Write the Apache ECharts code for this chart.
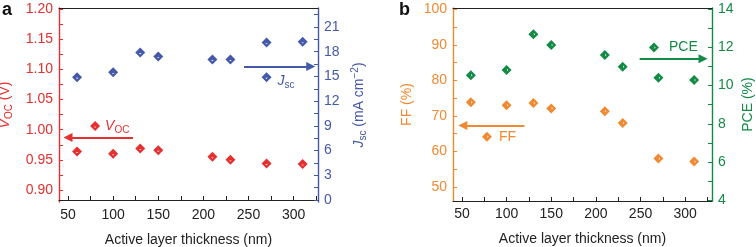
<!DOCTYPE html>
<html>
<head>
    <meta charset="utf-8">
    <script src="https://cdn.jsdelivr.net/npm/echarts@6/dist/echarts.min.js"></script>
</head>
<body style="margin:0;background:#fff;">
    <div id="main" style="width: 756px;height:247px;"></div>
    <script type="text/javascript">
        // thickness of active layer (nm)
        var thickness = [60, 100, 130, 150, 210, 230, 270, 310];
        var voc = [0.964, 0.960, 0.969, 0.966, 0.955, 0.950, 0.944, 0.943];
        var jsc = [14.9, 15.5, 17.9, 17.4, 17.05, 17.05, 19.1, 19.2];
        var ff = [73.8, 73.0, 73.6, 72.1, 71.3, 68.0, 58.0, 57.1];
        var pce = [10.55, 10.82, 12.70, 12.13, 11.60, 10.99, 10.41, 10.29];

        // key markers + arrows (data coords)
        var vocKey = [80, 1.006], jscKey = [270, 14.9];
        var ffKey = [78, 64.1], pceKey = [265, 12.0];
        var vocArrow = [122, 50, 0.987], jscArrow = [245, 319, 16.2];
        var ffArrow = [120, 51, 67.3], pceArrow = [249, 320, 11.41];

        // ticks
        var xTicks = [50, 75, 100, 125, 150, 175, 200, 225, 250, 275, 300, 325];
        var xLabels = [50, 100, 150, 200, 250, 300];
        var vocTicks = [0.9, 0.925, 0.95, 0.975, 1.0, 1.025, 1.05, 1.075, 1.1, 1.125, 1.15, 1.175, 1.2];
        var vocLabels = [0.9, 0.95, 1.0, 1.05, 1.1, 1.15, 1.2];
        var jscTicks = [0, 1.5, 3, 4.5, 6, 7.5, 9, 10.5, 12, 13.5, 15, 16.5, 18, 19.5, 21, 22.5];
        var jscLabels = [0, 3, 6, 9, 12, 15, 18, 21];
        var ffTicks = [50, 55, 60, 65, 70, 75, 80, 85, 90, 95, 100];
        var ffLabels = [50, 60, 70, 80, 90, 100];
        var pceTicks = [4, 5, 6, 7, 8, 9, 10, 11, 12, 13, 14];
        var pceLabels = [4, 6, 8, 10, 12, 14];

        var RED = '#e5302f', BLUE = '#4459a9', ORANGE = '#f08a32', GREEN = '#138a45';
        var FONT = 'Liberation Sans';

        // diamond with a small white cut-out
        var diamondA = 'path://M5 0L10 5L5 10L0 5ZM3.7 5.6L5 6.7L6.3 5.6Z';
        var diamondB = 'path://M5 0L10 5L5 10L0 5ZM5.5 3.7L5.5 6.3L6.6 5Z';

        function pairs(xs, ys) {
            var res = [];
            for (var i = 0; i < xs.length; i++) res.push([xs[i], ys[i]]);
            return res;
        }

        function xAxisBottom(grid, min, max) {
            return {
                type: 'value', gridIndex: grid, min: min, max: max, position: 'bottom',
                name: 'Active layer thickness (nm)', nameLocation: 'middle', nameGap: 31,
                nameTextStyle: { color: '#222', fontSize: 14, fontFamily: FONT },
                axisLine: { show: true, lineStyle: { color: '#222', width: 1.2 } },
                axisTick: { show: true, inside: true, length: 4, customValues: xTicks, lineStyle: { color: '#222' } },
                axisLabel: { customValues: xLabels, color: '#222', fontSize: 14, fontFamily: FONT, margin: 6 },
                splitLine: { show: false }
            };
        }

        function xAxisTop(grid, min, max) {
            return {
                type: 'value', gridIndex: grid, min: min, max: max, position: 'top',
                axisLine: { show: true, lineStyle: { color: '#222', width: 1.2 } },
                axisTick: { show: false }, axisLabel: { show: false }, splitLine: { show: false }
            };
        }

        function yAxis(grid, pos, min, max, color, ticks, labels, fmt, name, gap, rich) {
            return {
                type: 'value', gridIndex: grid, position: pos, min: min, max: max,
                name: name, nameLocation: 'middle', nameGap: gap, nameRotate: 90,
                nameTextStyle: { color: color, fontSize: 14, fontFamily: FONT, rich: rich },
                axisLine: { show: true, onZero: false, lineStyle: { color: color, width: 1.4 } },
                axisTick: { show: true, inside: true, length: 4, customValues: ticks, lineStyle: { color: color } },
                axisLabel: { customValues: labels, color: color, fontSize: 14, fontFamily: FONT, margin: 6, formatter: fmt },
                splitLine: { show: false }
            };
        }

        function subRich(color) {
            return {
                i: { fontStyle: 'italic', fontSize: 14, color: color, fontFamily: FONT, lineHeight: 18, verticalAlign: 'middle' },
                sub: { fontSize: 10, color: color, fontFamily: FONT, lineHeight: 18, verticalAlign: 'bottom' },
                sup: { fontSize: 10, color: color, fontFamily: FONT, lineHeight: 18, verticalAlign: 'top' },
                n: { fontSize: 14, color: color, fontFamily: FONT, lineHeight: 18, verticalAlign: 'middle' }
            };
        }

        function arrow(a, color) {
            return {
                silent: true, animation: false,
                symbol: ['none', 'triangle'], symbolSize: 9,
                label: { show: false },
                lineStyle: { color: color, width: 1.8, type: 'solid' },
                data: [[{ coord: [a[0], a[2]] }, { coord: [a[1], a[2]] }]]
            };
        }

        function dots(name, x, y, data, color, sym) {
            return {
                name: name, type: 'scatter', xAxisIndex: x, yAxisIndex: y,
                symbol: sym, symbolSize: [10, 10], itemStyle: { color: color, opacity: 1 },
                data: data, animation: false
            };
        }

        function key(name, x, y, pt, color, sym, text, a, labelOffset, dist) {
            var s = dots(name, x, y, [pt], color, sym);
            s.label = {
                show: true, position: 'right', distance: dist, offset: labelOffset,
                formatter: text, color: color, fontSize: 14, fontFamily: FONT, rich: subRich(color)
            };
            s.markLine = arrow(a, color);
            return s;
        }

        var myChart = echarts.init(document.getElementById('main'));

        var option = {
            animation: false,
            grid: [
                { left: 59, right: 438, top: 8, bottom: 45, outerBoundsMode: 'none', containLabel: false },
                { left: 453, right: 44, top: 8, bottom: 46, outerBoundsMode: 'none', containLabel: false }
            ],
            xAxis: [
                xAxisBottom(0, 40, 327), xAxisTop(0, 40, 327),
                xAxisBottom(1, 40, 330), xAxisTop(1, 40, 330)
            ],
            yAxis: [
                yAxis(0, 'left', 0.88, 1.202, RED, vocTicks, vocLabels,
                    function (v) { return v.toFixed(2); },
                    '{i|V}{sub|OC}{n| (V)}', 45, subRich(RED)),
                yAxis(0, 'right', -0.24, 23.3, BLUE, jscTicks, jscLabels, null,
                    '{i|J}{sub|sc}{n| (mA cm}{sup|−2}{n|)}', 32, subRich(BLUE)),
                yAxis(1, 'left', 46, 100.4, ORANGE, ffTicks, ffLabels, null,
                    'FF (%)', 39, null),
                yAxis(1, 'right', 3.95, 14.07, GREEN, pceTicks, pceLabels, null,
                    'PCE (%)', 29, null)
            ],
            graphic: [
                { type: 'text', left: 2, top: 1, style: { text: 'a', fontSize: 18, fontWeight: 'bold', fontFamily: FONT, fill: '#111' } },
                { type: 'text', left: 399, top: 1, style: { text: 'b', fontSize: 18, fontWeight: 'bold', fontFamily: FONT, fill: '#111' } }
            ],
            series: [
                dots('Voc', 0, 0, pairs(thickness, voc), RED, diamondA),
                dots('Jsc', 0, 1, pairs(thickness, jsc), BLUE, diamondA),
                key('VocKey', 0, 0, vocKey, RED, diamondA, '{i|V}{sub|OC}', vocArrow, [0, 0], 5),
                key('JscKey', 0, 1, jscKey, BLUE, diamondA, '{i|J}{sub|sc}', jscArrow, [0, 4], 6),
                dots('FF', 2, 2, pairs(thickness, ff), ORANGE, diamondB),
                dots('PCE', 2, 3, pairs(thickness, pce), GREEN, diamondB),
                key('FFKey', 2, 2, ffKey, ORANGE, diamondB, 'FF', ffArrow, [0, 0], 7),
                key('PCEKey', 2, 3, pceKey, GREEN, diamondB, 'PCE', pceArrow, [0, 0], 10)
            ]
        };

        myChart.setOption(option);
    </script>
</body>
</html>
